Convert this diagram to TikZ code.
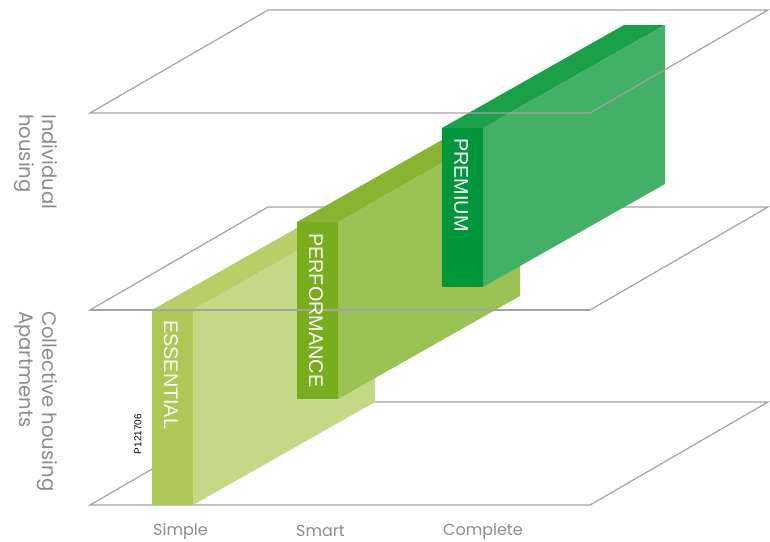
\documentclass[tikz,border=0pt]{standalone}
\usepackage{fontspec}
\setmainfont{Liberation Sans}
\newfontfamily\geofont{Poppins}
\definecolor{planegrey}{HTML}{A3A3A3}
\definecolor{txtgrey}{HTML}{8C8C8C}
\definecolor{essF}{HTML}{AEC856}
\definecolor{essS}{HTML}{C3D985}
\definecolor{essT}{HTML}{B8CF68}
\definecolor{perF}{HTML}{78AD1E}
\definecolor{perS}{HTML}{9BC255}
\definecolor{perT}{HTML}{88B432}
\definecolor{preF}{HTML}{009639}
\definecolor{preS}{HTML}{43B068}
\definecolor{preT}{HTML}{1BA04A}
\newcommand\drawprism[7]{%
  \fill[#7] (#1,#3) -- (#2,#3) -- ({#2+182},{#3-103}) -- ({#1+182},{#3-103}) -- cycle;
  \fill[#6] (#2,#3) -- (#2,#4) -- ({#2+182},{#4-103}) -- ({#2+182},{#3-103}) -- cycle;
  \fill[#5] (#1,#3) rectangle (#2,#4);
}
\begin{document}
\begin{tikzpicture}[x=1pt,y=-1pt,
  plane/.style={draw=planegrey, line width=1.2pt, line join=miter},
  boxlabel/.style={rotate=-90, anchor=west, inner sep=0pt, text=white,
    font=\fontsize{19.8}{20}\selectfont},
  sidelabel/.style={rotate=-90, anchor=base west, inner sep=0pt, text=txtgrey,
    font=\geofont\fontsize{19.6}{21}\selectfont},
  axislabel/.style={anchor=base west, inner sep=0pt, text=txtgrey,
    font=\geofont\fontsize{16}{18}\selectfont}]
\useasboundingbox (0,0) rectangle (770,541);
% lower planes
\draw[plane] (90,505) -- (590,505) -- (768,402) -- (268,402) -- cycle;
\draw[plane] (90,310) -- (590,310) -- (768,207) -- (268,207) -- cycle;
% prisms
\drawprism{152}{193}{310}{505}{essF}{essS}{essT}
\drawprism{297}{338}{222}{399}{perF}{perS}{perT}
\drawprism{442}{483}{128}{287}{preF}{preS}{preT}
% lines in front of prisms
\draw[plane] (90,310) -- (590,310);
\draw[plane] (90,113) -- (590,113) -- (768,10) -- (268,10) -- cycle;
% labels on prisms
\node[boxlabel] (ess) at (171,320) {ESSENTIAL};
\node[boxlabel] (per) at (316,233) {PERFORMANCE};
\node[boxlabel] (pre) at (461,138) {PREMIUM};
\node[rotate=90, inner sep=0pt, font=\fontsize{10}{12}\selectfont] (code) at (138,434) {P121706};
% side labels
\node[sidelabel] (ind) at (42,114) {Individual};
\node[sidelabel] (hou) at (19,114) {housing};
\node[sidelabel] (col) at (42,311) {Collective housing};
\node[sidelabel] (apt) at (19,311) {Apartments};
% axis labels
\node[axislabel] (sim) at (153,535) {Simple};
\node[axislabel] (sma) at (296,536) {Smart};
\node[axislabel] (com) at (443,535) {Complete};
\end{tikzpicture}
\end{document}
